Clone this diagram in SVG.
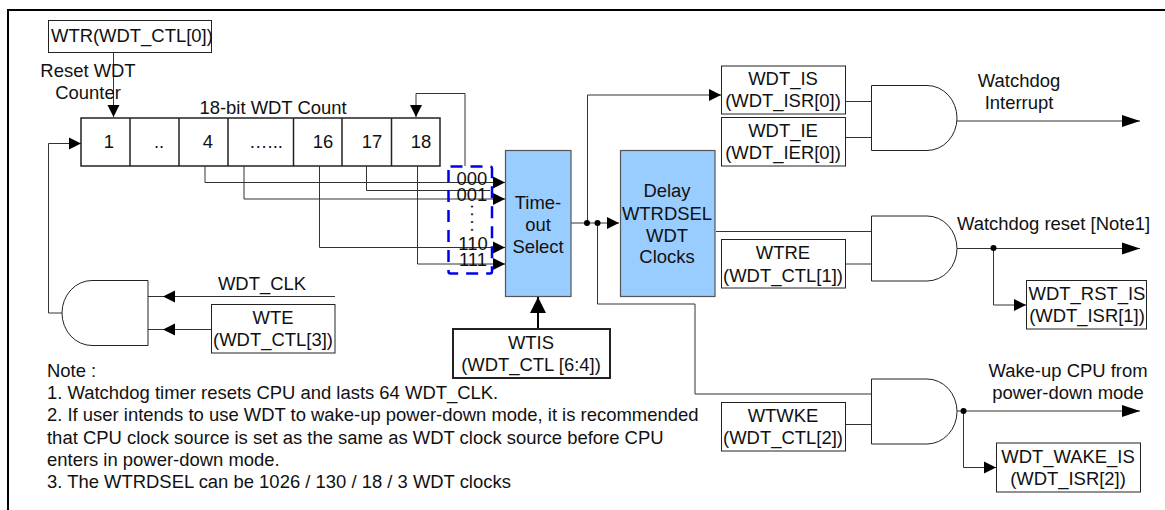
<svg xmlns="http://www.w3.org/2000/svg" width="1165" height="510" viewBox="0 0 1165 510">
<style>
text{font-family:"Liberation Sans",Arial,sans-serif;font-size:18.45px;fill:#111}
.m{text-anchor:middle}
.b{fill:#fff;stroke:#222;stroke-width:1}
.c{fill:#99ccff;stroke:#555;stroke-width:1.2}
.g{fill:#fff;stroke:#222;stroke-width:1}
.w{fill:none;stroke:#333;stroke-width:1}
</style>
<defs>
<marker id="a" markerUnits="userSpaceOnUse" markerWidth="13" markerHeight="13" refX="12" refY="6.5" orient="auto"><path d="M0,0.500L12,6.500L0,12.500Z" fill="#000"/></marker>
<marker id="o" markerUnits="userSpaceOnUse" markerWidth="19" markerHeight="13" refX="18" refY="6.5" orient="auto"><path d="M0,0.500L18,6.500L0,12.500Z" fill="#000"/></marker>
<marker id="t" markerUnits="userSpaceOnUse" markerWidth="17" markerHeight="17" refX="16" refY="8" orient="auto"><path d="M0,0L16,8L0,16Z" fill="#000"/></marker>
</defs>
<rect width="1165" height="510" fill="#fff"/>
<path id="frame" d="M8,510V10H1165" fill="none" stroke="#000" stroke-width="2"/>

<g id="counter">
<rect x="81" y="118" width="359" height="48" fill="#fff" stroke="#222" stroke-width="1.5"/>
<path d="M130,118V166M179,118V166M228,118V166M293.500,118V166M342,118V166M391.500,118V166" fill="none" stroke="#222" stroke-width="1.500"/>
<text class="m" x="109" y="148">1</text><text class="m" x="159" y="148">..</text><text class="m" x="208" y="148">4</text><text class="m" x="266" y="148">…...</text><text class="m" x="323" y="148">16</text><text class="m" x="372" y="148">17</text><text class="m" x="421" y="148">18</text>
<text class="m" x="273" y="114">18-bit WDT Count</text>
</g>

<g id="connectors">
<path class="w" d="M113.500,52V117" marker-end="url(#a)"/>
<path class="w" d="M465,166V93.500H416V117" marker-end="url(#a)"/>
<path class="w" d="M205,166V182.500H505" marker-end="url(#a)"/>
<path class="w" d="M244,166V199H505" marker-end="url(#a)"/>
<path class="w" d="M319.500,166V247.500H505" marker-end="url(#a)"/>
<path class="w" d="M366.500,166V190.500H490"/>
<path class="w" d="M417.500,166V264H505" marker-end="url(#a)"/>
<path class="w" d="M62,313H48.500V143.500H81" marker-end="url(#a)"/>
<path class="w" d="M335,296.500H148"/>
<path d="M175,290.500L163,296.500L175,302.500Z" fill="#000"/>
<path class="w" d="M211,329.500H148"/>
<path d="M175,323.500L163,329.500L175,335.500Z" fill="#000"/>
<path d="M538,329V297" fill="none" stroke="#000" stroke-width="2" marker-end="url(#t)"/>
<path class="w" d="M571,223H619" marker-end="url(#a)"/>
<path class="w" d="M587.500,223V95H721" marker-end="url(#a)"/>
<path class="w" d="M597.500,223V304H695V394H871"/>
<circle cx="587" cy="223" r="3" fill="#000"/><circle cx="597.500" cy="223" r="3" fill="#000"/>
<path class="w" d="M846,101.500H871M846,137.500H871M716,231.500H871M846,264H871M846,424.500H871"/>
<path class="w" d="M957,121H1140" marker-end="url(#o)"/>
<path class="w" d="M957,248.500H1140" marker-end="url(#o)"/>
<path class="w" d="M993.500,248V305H1026" marker-end="url(#a)"/>
<circle cx="993.500" cy="248" r="3" fill="#000"/>
<path class="w" d="M957,411H1140" marker-end="url(#o)"/>
<path class="w" d="M963.500,411V467.500H996" marker-end="url(#a)"/>
<circle cx="963.500" cy="411" r="3" fill="#000"/>
</g>

<g id="wtr"><rect class="b" x="48.500" y="20.500" width="163" height="32"/><text x="51" y="42">WTR(WDT_CTL[0])</text></g>
<text class="m" x="88" y="77">Reset WDT</text><text class="m" x="88" y="99">Counter</text>

<g id="selector-codes">
<rect x="448.500" y="166.500" width="43.500" height="107" rx="2" fill="none" stroke="#0000ee" stroke-width="2.500" stroke-dasharray="12 8"/>
<text class="m" x="472" y="185">000</text><text class="m" x="472" y="201">001</text>
<text x="471" y="204" transform="rotate(90 471 204)" letter-spacing="2.6">....</text>
<text class="m" x="473" y="250">110</text><text class="m" x="473" y="266">111</text>
</g>

<g id="timeout"><rect class="c" x="505.500" y="150.500" width="65.500" height="146"/><text class="m" x="538" y="209">Time-</text><text class="m" x="538" y="231">out</text><text class="m" x="538" y="253">Select</text></g>
<g id="delay"><rect class="c" x="620.500" y="150.500" width="94.500" height="146"/><text class="m" x="667" y="197">Delay</text><text class="m" x="667" y="220">WTRDSEL</text><text class="m" x="667" y="242">WDT</text><text class="m" x="667" y="263">Clocks</text></g>
<g id="wtis"><rect x="453" y="329" width="157" height="49" fill="#fff" stroke="#222" stroke-width="2"/><text class="m" x="531" y="349">WTIS</text><text class="m" x="531" y="371">(WDT_CTL [6:4])</text></g>

<g id="wdt-is"><rect class="b" x="721.500" y="66" width="124" height="48"/><text class="m" x="783" y="85">WDT_IS</text><text class="m" x="783" y="107">(WDT_ISR[0])</text></g>
<g id="wdt-ie"><rect class="b" x="721.500" y="117.500" width="124" height="48.500"/><text class="m" x="783" y="137">WDT_IE</text><text class="m" x="783" y="159">(WDT_IER[0])</text></g>
<g id="wtre"><rect class="b" x="721.500" y="239.500" width="124" height="48.500"/><text class="m" x="783" y="259">WTRE</text><text class="m" x="783" y="282">(WDT_CTL[1])</text></g>
<g id="wtwke"><rect class="b" x="721.500" y="402.500" width="124" height="48.500"/><text class="m" x="783" y="422">WTWKE</text><text class="m" x="783" y="444">(WDT_CTL[2])</text></g>
<g id="wte"><rect class="b" x="211.500" y="304.500" width="123.500" height="48.500"/><text class="m" x="273" y="324">WTE</text><text class="m" x="273" y="346">(WDT_CTL[3])</text></g>
<g id="wdt-rst-is"><rect class="b" x="1026.500" y="280.500" width="120" height="48.500"/><text class="m" x="1087" y="300">WDT_RST_IS</text><text class="m" x="1087" y="322">(WDT_ISR[1])</text></g>
<g id="wdt-wake-is"><rect class="b" x="996.500" y="443" width="144" height="49"/><text class="m" x="1068" y="463">WDT_WAKE_IS</text><text class="m" x="1068" y="485">(WDT_ISR[2])</text></g>

<g id="and1"><path class="g" d="M871.500,85.500H927A30,32.500 0 0 1 927,150.500H871.500Z"/></g>
<g id="and2"><path class="g" d="M871.500,216H927A30,32.500 0 0 1 927,281H871.500Z"/></g>
<g id="and3"><path class="g" d="M871.500,379H927A30,32.500 0 0 1 927,444H871.500Z"/></g>
<g id="and4"><path class="g" d="M148,280.500H92A30,32.500 0 0 0 92,345.500H148Z"/></g>

<text class="m" x="1019" y="87">Watchdog</text><text class="m" x="1019" y="109">Interrupt</text>
<text x="957" y="230">Watchdog reset [Note1]</text>
<text class="m" x="1068" y="377">Wake-up CPU from</text><text class="m" x="1068" y="399">power-down mode</text>
<text class="m" x="262" y="290">WDT_CLK</text>
<g id="note">
<text x="47" y="377">Note :</text>
<text x="47" y="399">1. Watchdog timer resets CPU and lasts 64 WDT_CLK.</text>
<text x="47" y="421">2. If user intends to use WDT to wake-up power-down mode, it is recommended</text>
<text x="47" y="444">that CPU clock source is set as the same as WDT clock source before CPU</text>
<text x="47" y="466">enters in power-down mode.</text>
<text x="47" y="488">3. The WTRDSEL can be 1026 / 130 / 18 / 3 WDT clocks</text>
</g>
</svg>
